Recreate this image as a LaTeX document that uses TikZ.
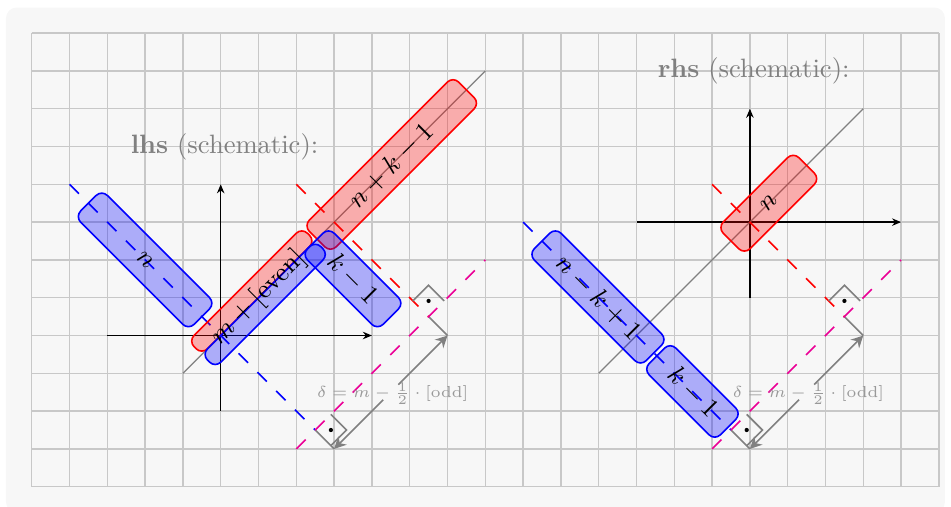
\documentclass[tikz,border=0pt]{standalone}
\usetikzlibrary{arrows.meta}
\definecolor{bgc}{HTML}{F7F7F7}
\definecolor{gridc}{HTML}{C8C8C8}
\definecolor{magc}{RGB}{235,0,150}
\begin{document}
\begin{tikzpicture}[x=0.5cm,y=0.5cm,
  gridline/.style={draw=gridc, line width=0.55pt},
  axis/.style={black, line width=0.6pt, -{Stealth[length=3.4pt,width=2.8pt]}},
  diag/.style={draw=gray, line width=0.5pt},
  dashbase/.style={line width=0.6pt, dash pattern=on 5pt off 5pt},
  bdash/.style={dashbase, blue},
  rdash/.style={dashbase, red},
  mdash/.style={dashbase, magc},
  ext/.style={gray, line width=0.6pt},
  boxbase/.style={rounded corners=3pt, line width=0.6pt, inner sep=0pt, outer sep=0pt, fill opacity=0.3, text opacity=1},
  bluebox/.style={boxbase, draw=blue, fill=blue},
  redbox/.style={boxbase, draw=red, fill=red},
  lbl/.style={text=black, inner sep=1pt},
  ttl/.style={text=gray, inner sep=1pt},
  dlabel/.style={text=gray!80, font=\fontsize{6.2}{7.5}\selectfont, inner sep=1pt},
  darrow/.style={gray, line width=0.6pt, -{Stealth[length=4.5pt,width=4.5pt]}},
  ramark/.style={gray, line width=0.6pt},
]
\useasboundingbox (-0.8386,-0.5106) rectangle (24.320,12.876);
\fill[bgc, rounded corners=4pt] (-0.68,-0.68) rectangle (24.16,12.677);
\draw[gridline, step=0.5cm] (0,0) grid (24,12);

% ---------------- left (lhs) ----------------
\coordinate (LxA) at (2,4); \coordinate (LxB) at (9,4);
\coordinate (LyA) at (5,2); \coordinate (LyB) at (5,8);
\draw[axis] (LxA) -- (LxB);
\draw[axis] (LyA) -- (LyB);
\coordinate (LdA) at (4,3); \coordinate (LdB) at (12,11);
\draw[diag] (LdA) -- (LdB);
\coordinate (LbA) at (1,8); \coordinate (LbF) at (7.5,1.5); \coordinate (LbE) at (8,1);
\draw[bdash] (LbA) -- (LbF);
\draw[ext] (LbF) -- (LbE);
\coordinate (LrA) at (7,8); \coordinate (LrF) at (10.5,4.5); \coordinate (LrE) at (11,4);
\draw[rdash] (LrA) -- (LrF);
\draw[ext] (LrF) -- (LrE);
\coordinate (LmA) at (7,1); \coordinate (LmB) at (12,6);
\draw[mdash] (LmA) -- (LmB);
\draw[ramark] (7.915,1.915) -- (8.33,1.5) -- (7.915,1.085);
\fill (7.915,1.5) circle (0.8pt);
\draw[ramark] (10.085,4.915) -- (10.5,5.33) -- (10.915,4.915);
\fill (10.5,4.915) circle (0.8pt);
\node[dlabel] (Ldl) at (9.55,2.47) {$\delta = m - \frac{1}{2}\cdot[\mathrm{odd}]$};
\coordinate (LaS1) at (9.3,2.3); \coordinate (LaS2) at (9.7,2.7);
\draw[darrow] (LaS1) -- (LbE);
\draw[darrow] (LaS2) -- (LrE);

\node[bluebox, rotate=-45, minimum width=2.1213cm, minimum height=0.5cm] (Bn) at (3,6) {};
\node[redbox, rotate=45, minimum width=2.1213cm, minimum height=0.25cm] (Rm) at (5.823,5.177) {};
\node[bluebox, rotate=45, minimum width=2.1213cm, minimum height=0.25cm] (Bm) at (6.177,4.823) {};
\node[redbox, rotate=45, minimum width=2.793cm, minimum height=0.5cm] (Rnk) at (9.525,8.525) {};
\node[bluebox, rotate=-45, minimum width=1.4142cm, minimum height=0.5cm] (Bk) at (8.5,5.5) {};

\node[lbl, rotate=-45] (tBn) at (3,6) {$n$};
\node[lbl, rotate=45] (tm) at (6,5) {$m+[\mathrm{even}]$};
\node[lbl, rotate=45] (tRnk) at (9.5,8.5) {$n+k-1$};
\node[lbl, rotate=-45] (tBk) at (8.5,5.5) {$k-1$};
\node[ttl] (Ltitle) at (5.1,9) {\textbf{lhs} (schematic):};

% ---------------- right (rhs) ----------------
\coordinate (RxA) at (16,7); \coordinate (RxB) at (23,7);
\coordinate (RyA) at (19,5); \coordinate (RyB) at (19,10);
\draw[axis] (RxA) -- (RxB);
\draw[axis] (RyA) -- (RyB);
\coordinate (RdA) at (15,3); \coordinate (RdB) at (22,10);
\draw[diag] (RdA) -- (RdB);
\coordinate (RbA) at (13,7); \coordinate (RbF) at (18.5,1.5); \coordinate (RbE) at (19,1);
\draw[bdash] (RbA) -- (RbF);
\draw[ext] (RbF) -- (RbE);
\coordinate (RrA) at (18,8); \coordinate (RrF) at (21.5,4.5); \coordinate (RrE) at (22,4);
\draw[rdash] (RrA) -- (RrF);
\draw[ext] (RrF) -- (RrE);
\coordinate (RmA) at (18,1); \coordinate (RmB) at (23,6);
\draw[mdash] (RmA) -- (RmB);
\draw[ramark] (18.915,1.915) -- (19.33,1.5) -- (18.915,1.085);
\fill (18.915,1.5) circle (0.8pt);
\draw[ramark] (21.085,4.915) -- (21.5,5.33) -- (21.915,4.915);
\fill (21.5,4.915) circle (0.8pt);
\node[dlabel] (Rdl) at (20.55,2.47) {$\delta = m - \frac{1}{2}\cdot[\mathrm{odd}]$};
\coordinate (RaS1) at (20.3,2.3); \coordinate (RaS2) at (20.7,2.7);
\draw[darrow] (RaS1) -- (RbE);
\draw[darrow] (RaS2) -- (RrE);

\node[redbox, rotate=45, minimum width=1.4142cm, minimum height=0.5cm] (Rn) at (19.5,7.5) {};
\node[bluebox, rotate=-45, minimum width=2.093cm, minimum height=0.5cm] (Bnk) at (14.98,5.02) {};
\node[bluebox, rotate=-45, minimum width=1.333cm, minimum height=0.5cm] (Bk2) at (17.48,2.52) {};

\node[lbl, rotate=45] (tRn) at (19.5,7.5) {$n$};
\node[lbl, rotate=-45] (tBnk) at (15,5) {$n-k+1$};
\node[lbl, rotate=-45] (tBk2) at (17.5,2.5) {$k-1$};
\node[ttl] (Rtitle) at (19.1,11) {\textbf{rhs} (schematic):};
\end{tikzpicture}
\end{document}
